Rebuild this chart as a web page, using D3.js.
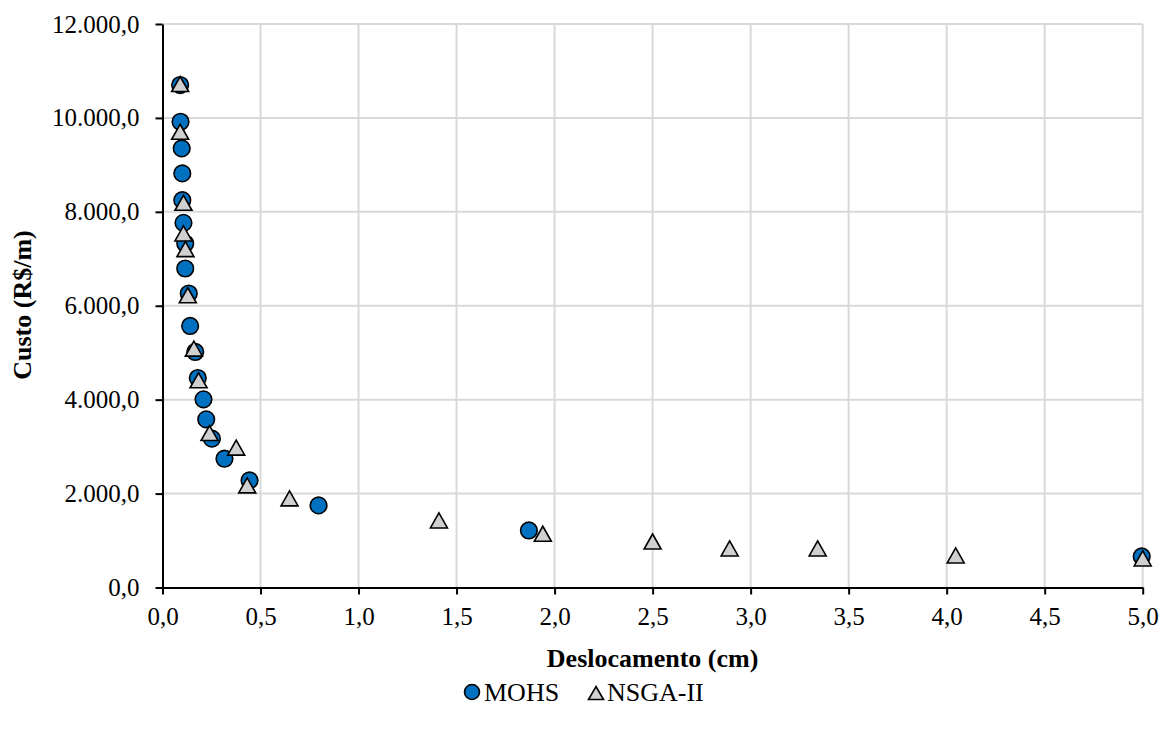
<!DOCTYPE html>
<html>
<head>
<meta charset="utf-8">
<script src="https://cdn.jsdelivr.net/npm/d3@7"></script>
<style>
  body { margin: 0; background: #fff; }
  svg { display: block; font-family: "Liberation Serif", "Times New Roman", serif; }
</style>
</head>
<body>
<svg width="1172" height="733"></svg>
<script>
var width = 1172;
var height = 733;

// MOHS (circles)
var mohsX = [0.090, 0.092, 0.098, 0.101, 0.101, 0.107, 0.116, 0.116, 0.134, 0.141,
             0.167, 0.180, 0.209, 0.223, 0.252, 0.316, 0.444, 0.796, 1.869, 4.995];
var mohsY = [10700, 9918, 9351, 8818, 8249, 7765, 7326, 6793, 6260, 5570,
             5016, 4461, 4007, 3581, 3170, 2743, 2281, 1748, 1215, 661];

// NSGA-II (triangles)
var nsgaX = [0.090, 0.090, 0.107, 0.107, 0.117, 0.129, 0.160, 0.184, 0.240, 0.376,
             0.432, 0.648, 1.410, 1.940, 2.500, 2.893, 3.342, 4.046, 5.000];
var nsgaY = [10722, 9705, 8192, 7540, 7205, 6224, 5088, 4412, 3289, 2978,
             2174, 1897, 1428, 1145, 980, 831, 831, 682, 618];

var xTicks = [0, 0.5, 1, 1.5, 2, 2.5, 3, 3.5, 4, 4.5, 5];
var yTicks = [0, 2000, 4000, 6000, 8000, 10000, 12000];
var seriesNames = ["MOHS", "NSGA-II"];

var mohs = mohsX.map((x, i) => ({x: x, y: mohsY[i]}));
var nsga = nsgaX.map((x, i) => ({x: x, y: nsgaY[i]}));

var ptBr = d3.formatLocale({decimal: ",", thousands: ".", grouping: [3], currency: ["R$", ""]});
var fmt = ptBr.format(",.1f");

var xScale = d3.scaleLinear().domain([0, 5]).range([162.5, 1142.7]);
var yScale = d3.scaleLinear().domain([0, 12000]).range([587.5, 24]);

var svg = d3.select("svg");

// grid
svg.append("g")
  .selectAll("line")
  .data(yTicks.filter(d => d > 0))
  .enter().append("line")
    .attr("x1", xScale(0)).attr("x2", xScale(5))
    .attr("y1", d => yScale(d)).attr("y2", d => yScale(d))
    .attr("stroke", "#d9d9d9").attr("stroke-width", 2);

svg.append("g")
  .selectAll("line")
  .data(xTicks.filter(d => d > 0))
  .enter().append("line")
    .attr("x1", d => xScale(d)).attr("x2", d => xScale(d))
    .attr("y1", yScale(0)).attr("y2", yScale(12000))
    .attr("stroke", "#d9d9d9").attr("stroke-width", 2);

// axes
var xAxis = d3.axisBottom(xScale).tickValues(xTicks)
  .tickFormat(d => ptBr.format(".1f")(d)).tickSize(7).tickSizeOuter(0).tickPadding(13);
var yAxis = d3.axisLeft(yScale).tickValues(yTicks)
  .tickFormat(fmt).tickSize(7).tickSizeOuter(0).tickPadding(16);

var gx = svg.append("g")
  .attr("transform", "translate(0," + yScale(0) + ")")
  .call(xAxis);
var gy = svg.append("g")
  .attr("transform", "translate(" + xScale(0) + ",0)")
  .call(yAxis);

[gx, gy].forEach(g => {
  g.select(".domain").attr("stroke", "#000").attr("stroke-width", 2);
  g.selectAll(".tick line").attr("stroke", "#000").attr("stroke-width", 2);
  g.selectAll(".tick text")
    .attr("fill", "#000")
    .style("font-family", "'Liberation Serif', serif")
    .style("font-size", "25px");
});

// triangle path centred on its bounding box
function triangle(w, h) {
  return "M0," + (-h / 2) + "L" + (w / 2) + "," + (h / 2) + "L" + (-w / 2) + "," + (h / 2) + "Z";
}

// MOHS
svg.append("g")
  .selectAll("circle")
  .data(mohs)
  .enter().append("circle")
    .attr("cx", d => xScale(d.x))
    .attr("cy", d => yScale(d.y))
    .attr("r", 8.3)
    .attr("fill", "#0070c0")
    .attr("stroke", "#000")
    .attr("stroke-width", 1.6);

// NSGA-II
svg.append("g")
  .selectAll("path")
  .data(nsga)
  .enter().append("path")
    .attr("transform", d => "translate(" + xScale(d.x) + "," + yScale(d.y) + ")")
    .attr("d", triangle(17, 15))
    .attr("fill", "#d0d0d0")
    .attr("stroke", "#000")
    .attr("stroke-width", 1.6)
    .attr("stroke-linejoin", "miter");

// axis titles
svg.append("text")
  .attr("x", (xScale(0) + xScale(5)) / 2)
  .attr("y", 667)
  .style("text-anchor", "middle")
  .style("font-size", "26px")
  .style("font-weight", "bold")
  .text("Deslocamento (cm)");

svg.append("text")
  .attr("transform", "rotate(-90)")
  .attr("x", -305)
  .attr("y", 31)
  .style("text-anchor", "middle")
  .style("font-size", "26px")
  .style("font-weight", "bold")
  .text("Custo (R$/m)");

// legend
var legend = svg.append("g");
legend.append("circle")
  .attr("cx", 472).attr("cy", 692).attr("r", 7.5)
  .attr("fill", "#0070c0").attr("stroke", "#000").attr("stroke-width", 1.6);
legend.append("text")
  .attr("x", 484).attr("y", 701)
  .style("font-size", "26px")
  .text(seriesNames[0]);
legend.append("path")
  .attr("transform", "translate(596,693)")
  .attr("d", triangle(15, 13))
  .attr("fill", "#d0d0d0").attr("stroke", "#000").attr("stroke-width", 1.6);
legend.append("text")
  .attr("x", 607).attr("y", 701)
  .style("font-size", "26px")
  .text(seriesNames[1]);
</script>
</body>
</html>
